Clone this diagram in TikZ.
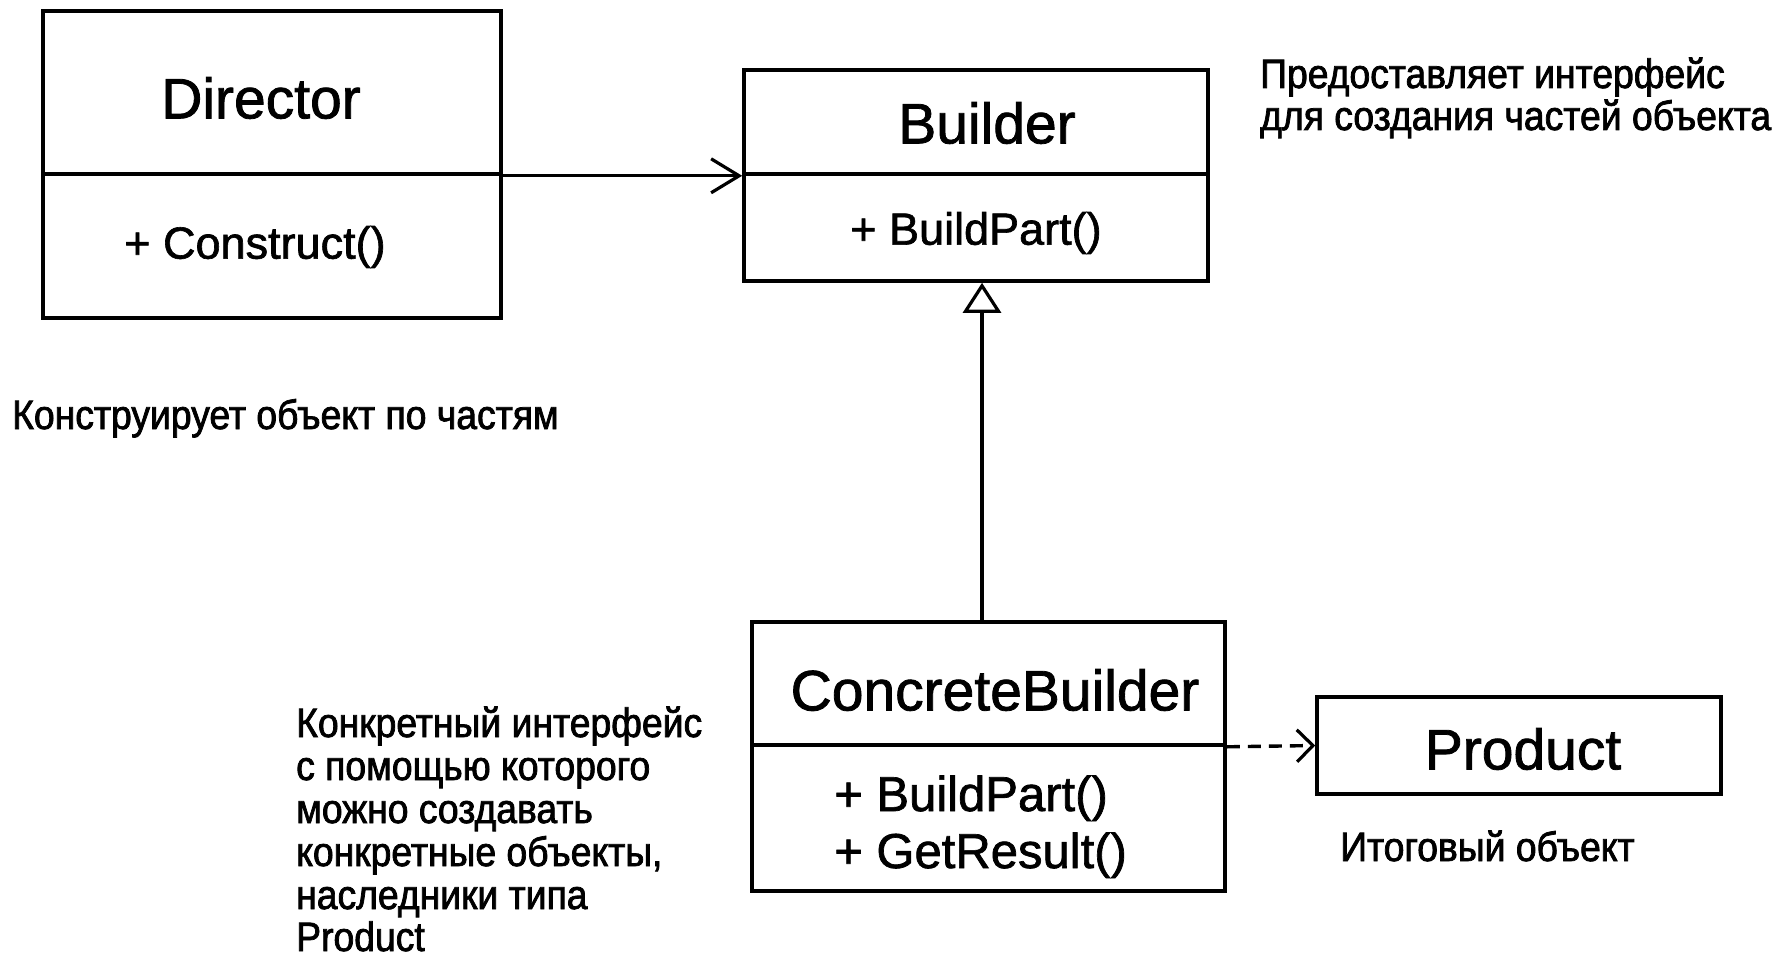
\documentclass[tikz,border=0pt]{standalone}
\usepackage{fontspec}
\setmainfont{Liberation Sans}[FakeBold=1.4]
\newfontfamily\notefont{Liberation Sans}[FakeBold=1.8, FakeStretch=0.91]
\usetikzlibrary{arrows.meta}

\begin{document}
\begin{tikzpicture}[x=1pt,y=-1pt,
  cell/.style={draw, line width=3.6pt, inner sep=0pt},
  title/.style={inner sep=0pt, font=\fontsize{57}{60}\selectfont},
  oper/.style={inner sep=0pt, font=\fontsize{45}{50}\selectfont},
  operb/.style={inner sep=0pt, anchor=base west, font=\fontsize{49}{54}\selectfont},
  note/.style={inner sep=0pt, anchor=base west, font=\notefont\fontsize{41}{44}\selectfont},
  assoc/.style={line width=3.4pt, -{Straight Barb[length=28pt, width=34pt, line width=3.2pt]}},
  inherit/.style={line width=3.4pt, -{Triangle[open, length=30pt, width=38pt, line width=3.2pt]}},
  dep/.style={line width=3.4pt, dash pattern=on 13pt off 8pt, -{Straight Barb[length=16pt, width=32pt, line width=3.2pt]}}
]
% canvas
\fill[white] (0,0) rectangle (1779,960);
\useasboundingbox (0,0) rectangle (1779,960);

% Director
\node[cell, minimum width=458pt, minimum height=163pt] (dirTop) at (272,92.5) {};
\node[cell, minimum width=458pt, minimum height=144pt] (dirBot) at (272,246) {};
\node[title] (dirName) at (261,98) {Director};
\node[oper] (dirOp) at (255,247) {+ Construct()};

% Builder
\node[cell, minimum width=464pt, minimum height=104pt] (bldTop) at (976,122) {};
\node[cell, minimum width=464pt, minimum height=107pt] (bldBot) at (976,227.5) {};
\node[title] (bldName) at (987,123) {Builder};
\node[oper] (bldOp) at (976,233) {+ BuildPart()};

% ConcreteBuilder
\node[cell, minimum width=473pt, minimum height=123pt] (cbTop) at (988.5,683.5) {};
\node[cell, minimum width=473pt, minimum height=146pt] (cbBot) at (988.5,818) {};
\node[title] (cbName) at (995,690) {ConcreteBuilder};
\node[operb] (cbOp1) at (834,811) {+ BuildPart()};
\node[operb] (cbOp2) at (834,868) {+ GetResult()};

% Product
\node[cell, minimum width=404pt, minimum height=97pt] (prod) at (1519,745.5) {};
\node[title] (prodName) at (1523,749) {Product};

% connectors
\draw[assoc] (dirTop.south east) -- (bldTop.south west);
\coordinate (gx) at (982,0);
\draw[inherit] (gx |- cbTop.north) -- (gx |- bldBot.south);
\draw[dep] (cbTop.south east) -- (prod.west);

% notes
\node[note] (bn1) at (1260,88) {Предоставляет интерфейс};
\node[note] (bn2) at (1260,130) {для создания частей объекта};
\node[note] (dn1) at (12,429) {Конструирует объект по частям};
\node[note] (pn1) at (1340,861) {Итоговый объект};
\node[note] (cn1) at (296,737) {Конкретный интерфейс};
\node[note] (cn2) at (296,780) {с помощью которого};
\node[note] (cn3) at (296,823) {можно создавать};
\node[note] (cn4) at (296,866) {конкретные объекты,};
\node[note] (cn5) at (296,909) {наследники типа};
\node[note] (cn6) at (296,951) {Product};
\end{tikzpicture}
\end{document}
